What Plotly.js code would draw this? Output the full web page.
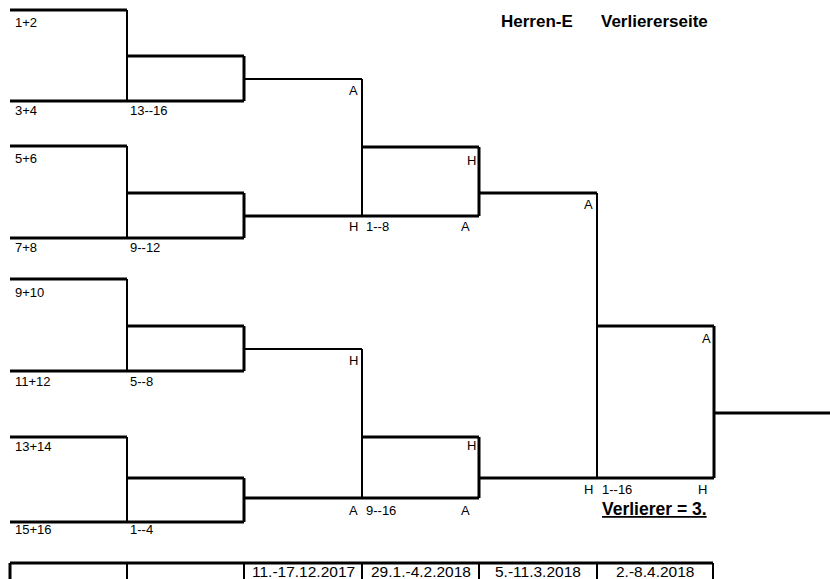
<!DOCTYPE html>
<html>
<head>
<meta charset="utf-8">
<script src="https://cdn.plot.ly/plotly-3.0.1.min.js"></script>
<style>html,body{margin:0;padding:0;background:#fff;}#chart{width:830px;height:579px;}</style>
</head>
<body>
<div id="chart"></div>
<script>
// ---- data (texts of the bracket) ----
const titleParts = ["Herren-E", "Verliererseite"];
const seeds = ["1+2", "3+4", "5+6", "7+8", "9+10", "11+12", "13+14", "15+16"];
const round2Places = ["13--16", "9--12", "5--8", "1--4"];
const round3Places = ["1--8", "9--16"];
const finalPlace = "1--16";
const loserNote = "Verlierer = 3.";
const dates = ["", "", "11.-17.12.2017", "29.1.-4.2.2018", "5.-11.3.2018", "2.-8.4.2018"];

// ---- layout geometry (pixel grid of the sheet) ----
const COL = [10, 127, 244, 362, 479, 597, 714, 830];
const r1 = [10, 101, 146, 238, 279, 371, 437, 522];  // first-round lines
const r2top = [56, 193, 326, 478];                   // second-round upper lines
const r2out = [79, 216, 349, 498];                   // second-round outputs
const r3top = [147, 437];
const r3out = [193, 478];
const r4top = 326, r4out = 413;
const tableY = 563, pageBottom = 579;

const thick = {x: [], y: []}, thin = {x: [], y: []};
function seg(t, x0, y0, x1, y1) { t.x.push(x0, x1, null); t.y.push(y0, y1, null); }

for (let p = 0; p < 4; p++) {
  const a = r1[2 * p], b = r1[2 * p + 1];
  seg(thick, COL[0], a, COL[1], a);
  seg(thick, COL[0], b, COL[2], b);
  seg(thin, COL[1], a, COL[1], b);
  seg(thick, COL[1], r2top[p], COL[2], r2top[p]);
  seg(thick, COL[2], r2top[p], COL[2], b);
}
for (let h = 0; h < 2; h++) {
  const up = r2out[2 * h], lo = r2out[2 * h + 1];
  seg(thin, COL[2], up, COL[3], up);
  seg(thick, COL[2], lo, COL[4], lo);
  seg(thin, COL[3], up, COL[3], lo);
  seg(thick, COL[3], r3top[h], COL[4], r3top[h]);
  seg(thick, COL[4], r3top[h], COL[4], lo);
}
seg(thick, COL[4], r3out[0], COL[5], r3out[0]);
seg(thick, COL[4], r3out[1], COL[6], r3out[1]);
seg(thin, COL[5], r3out[0], COL[5], r3out[1]);
seg(thick, COL[5], r4top, COL[6], r4top);
seg(thick, COL[6], r4top, COL[6], r3out[1]);
seg(thick, COL[6], r4out, COL[7], r4out);

// table at the bottom
const tableRight = 713;
seg(thick, COL[0], tableY, tableRight, tableY);
seg(thick, COL[0], tableY, COL[0], pageBottom);
[COL[1], COL[2], COL[3], COL[4], COL[5], tableRight].forEach(x => seg(thin, x, tableY, x, pageBottom));

const traces = [
  {type: 'scatter', mode: 'lines', x: thick.x, y: thick.y, line: {color: '#000', width: 3}, hoverinfo: 'skip', showlegend: false},
  {type: 'scatter', mode: 'lines', x: thin.x, y: thin.y, line: {color: '#000', width: 2}, hoverinfo: 'skip', showlegend: false}
];

const FONT = "Liberation Sans, Arial, sans-serif";
const LS = 13;
const ann = [];
function txt(text, x, y, xanchor, size, extra) {
  ann.push(Object.assign({text: text, x: x, y: y, xref: 'x', yref: 'y', xanchor: xanchor, yanchor: 'middle',
    showarrow: false, borderpad: 0, font: {family: FONT, size: size, color: '#000'}}, extra || {}));
}
// title
txt('<b>' + titleParts[0] + '</b>', 500, 21, 'left', 17);
txt('<b>' + titleParts[1] + '</b>', 600, 21, 'left', 17);
// seed labels
const seedY = [22, 110, 158, 247, 292, 381, 446, 529];
seeds.forEach((s, i) => txt(s, 14, seedY[i], 'left', LS));
const r2Y = [110, 247, 381, 529];
round2Places.forEach((s, i) => txt(s, 129, r2Y[i], 'left', LS));
// home/away markers
txt('A', 359, 90, 'right', LS);
txt('H', 359, 226, 'right', LS);
txt(round3Places[0], 365, 226, 'left', LS);
txt('H', 477, 160, 'right', LS);
txt('A', 471, 226, 'right', LS);
txt('H', 359, 360, 'right', LS);
txt('H', 477, 445, 'right', LS);
txt('A', 359, 510, 'right', LS);
txt(round3Places[1], 365, 510, 'left', LS);
txt('A', 471, 510, 'right', LS);
txt('A', 594, 204, 'right', LS);
txt('A', 712, 338, 'right', LS);
txt('H', 594, 489, 'right', LS);
txt(finalPlace, 601, 489, 'left', LS);
txt('H', 708, 489, 'right', LS);
txt('<b><u>' + loserNote + '</u></b>', 654, 509, 'center', 17.5);
// dates
const cellEdges = [COL[0], COL[1], COL[2], COL[3], COL[4], COL[5], tableRight];
dates.forEach((d, i) => { if (d) txt(d, (cellEdges[i] + cellEdges[i + 1]) / 2, 571, 'center', 15.5); });

const layout = {
  width: 830, height: 579,
  margin: {l: 0, r: 0, t: 0, b: 0, pad: 0},
  paper_bgcolor: '#fff', plot_bgcolor: '#fff',
  xaxis: {range: [0, 830], visible: false, fixedrange: true},
  yaxis: {range: [579, 0], visible: false, fixedrange: true},
  annotations: ann,
  showlegend: false
};
Plotly.newPlot('chart', traces, layout, {staticPlot: true, displayModeBar: false});
</script>
</body>
</html>
